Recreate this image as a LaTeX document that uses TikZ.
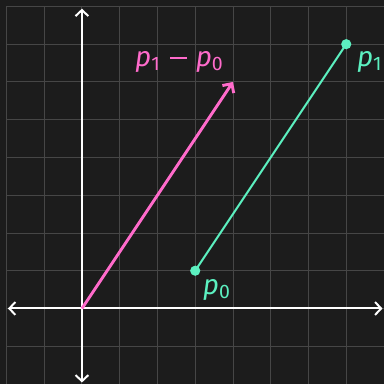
\documentclass[tikz,border=0pt]{standalone}
\usepackage{fontspec}
\setmainfont{Fira Sans}
\usetikzlibrary{arrows.meta,positioning}
\definecolor{bgdark}{HTML}{1C1C1C}
\definecolor{gridgray}{HTML}{464646}
\definecolor{vecpink}{HTML}{FF6BCB}
\definecolor{ptmint}{HTML}{5CF0C0}
\newcommand{\pt}[1]{\textit{p}\textsubscript{#1}}
\newcommand{\mminus}{\hspace{0.35em}\rule[0.27em]{0.62em}{0.06em}\hspace{0.3em}}

\begin{document}
\begin{tikzpicture}[
	axis/.style={white, line width=1.5pt, {Straight Barb[length=1.6mm,width=3.4mm]}-{Straight Barb[length=1.6mm,width=3.4mm]}},
	vec/.style={vecpink, line width=2.2pt, -{Straight Barb[length=1.8mm,width=3.6mm]}},
	seg/.style={ptmint, line width=1.5pt},
	dot/.style={circle, fill=ptmint, inner sep=0pt, minimum size=2.7mm},
	lbl/.style={font=\fontsize{21}{25}\selectfont}
]
	% background and grid
	\fill[bgdark] (-2.17,-2) rectangle (8,8.17);
	\useasboundingbox (-2.17,-2) rectangle (8,8.17);
	\draw[gridgray, line width=0.7pt] (-2,-2) grid (8.2,8);
	% axes
	\coordinate (xl) at (-1.96,0);
	\coordinate (xr) at (7.96,0);
	\coordinate (yb) at (0,-1.96);
	\coordinate (yt) at (0,7.94);
	\draw[axis] (xl) -- (xr);
	\draw[axis] (yb) -- (yt);
	% points and vectors
	\coordinate (O) at (0,0);
	\coordinate (d) at (4,6);
	\node[dot] (p0) at (3,1) {};
	\node[dot] (p1) at (7,7) {};
	\draw[seg] (p0.center) -- (p1.center);
	\draw[vec] (O) -- (d);
	\node[lbl, text=ptmint] (l0) at (3.57,0.5) {\pt{0}};
	\node[lbl, text=ptmint] (l1) at (7.62,6.53) {\pt{1}};
	\node[lbl, text=vecpink] (ld) at (2.58,6.53) {\pt{1}\mminus\pt{0}};
\end{tikzpicture}
\end{document}
